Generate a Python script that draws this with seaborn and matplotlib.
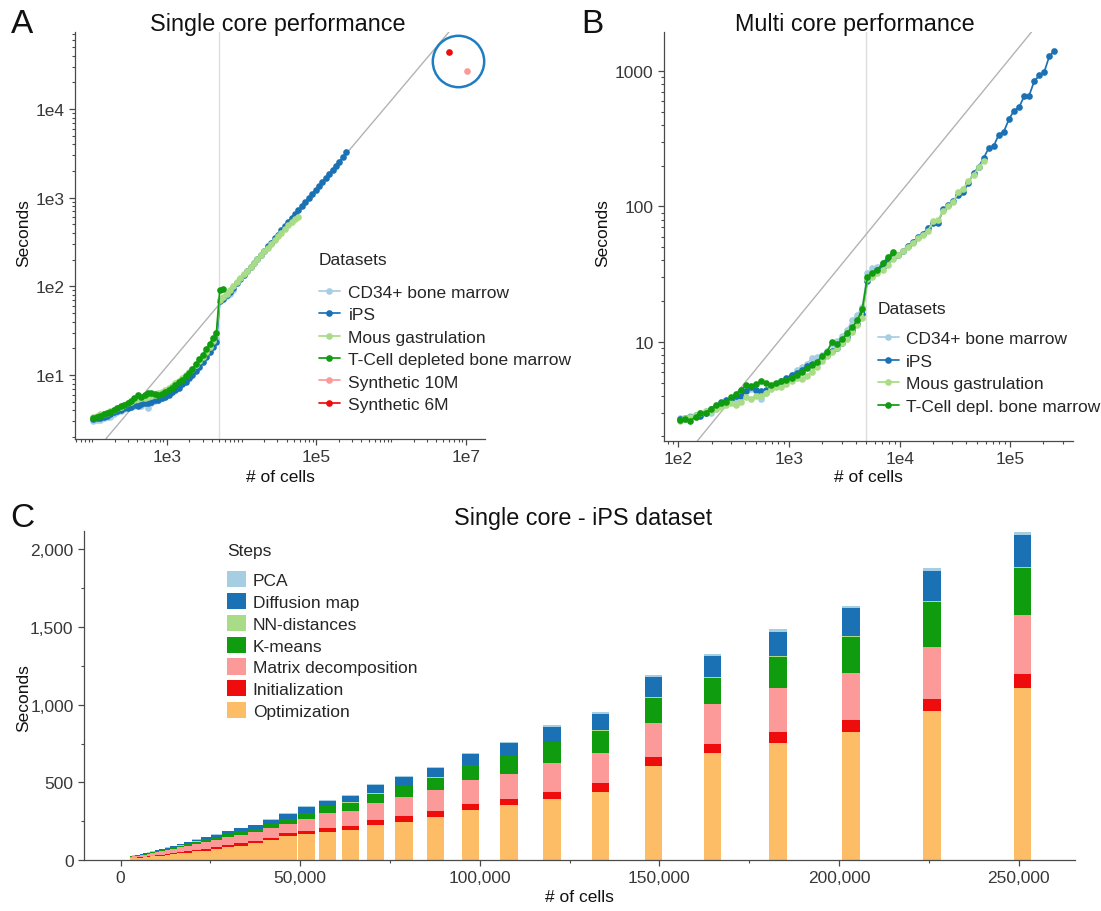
import numpy as np
import pandas as pd
import matplotlib
matplotlib.use("Agg")
import matplotlib.pyplot as plt
from matplotlib.patches import Patch
from matplotlib.ticker import (FixedLocator, FuncFormatter, LogLocator,
                               MultipleLocator, NullFormatter)
import seaborn as sns

# ------------------------------------------------------------------
# Subsample sizes (# of cells) used for every dataset
# ------------------------------------------------------------------
n_cells = [104, 115, 128, 143, 158, 176, 196, 217, 241, 268, 298, 331, 368,
           408, 454, 504, 560, 622, 691, 768, 853, 948, 1053, 1170, 1300,
           1445, 1605, 1783, 1981, 2201, 2445, 2717, 3018, 3353, 3725, 4139,
           4598, 5109, 5676, 6306, 7006, 7783, 8647, 9607, 10670, 11860,
           13180, 14640, 16260, 18070, 20070, 22300, 24780, 27530, 30580,
           33980, 37750, 41940, 46590, 51760, 57510, 63890, 70980, 78860,
           87610, 97330, 108100, 120100, 133500, 148300, 164700, 183000,
           203300, 225900, 251000]

# ------------------------------------------------------------------
# Single core run times (seconds)
# ------------------------------------------------------------------
single_cd34 = [3.0, 3.1, 3.1, 3.3, 3.4, 3.4, 3.6, 3.8, 3.9, 4.1, 4.3, 4.4,
               4.5, 4.7, 4.5, 4.8, 4.3, 4.9, 5.1, 5.3, 5.5, 5.8, 6.1, 6.5,
               7.0, 7.5, 8.1, 8.8, 9.6, 10.5, 11.6, 12.9, 14.6, 16.5, 18.8,
               21.8, 25.5, 70, 74, 77, 83, 92]
single_ips = [3.2, 3.3, 3.3, 3.4, 3.5, 3.6, 3.8, 3.9, 4.0, 4.2, 4.2, 4.4,
              4.6, 4.5, 4.7, 4.9, 4.8, 5.0, 5.2, 5.3, 5.5, 5.7, 6.0, 6.4,
              6.8, 7.2, 7.9, 8.4, 9.2, 10.0, 11.2, 12.4, 14.0, 15.8, 18.0,
              20.5, 23.5,
              68, 73, 79, 87, 97, 108, 121, 136, 150, 166, 186, 205, 229,
              252, 282, 312, 348, 385, 430, 476, 528, 588, 650, 722, 805,
              893, 990, 1100, 1225, 1360, 1510, 1680, 1860, 2070, 2300,
              2560, 2850, 3250]
single_mous = [3.4, 3.5, 3.6, 3.6, 3.7, 3.9, 4.0, 4.2, 4.4, 4.6, 4.8, 5.0,
               5.2, 5.4, 5.5, 5.5, 5.6, 5.8, 5.9, 6.2, 6.5, 6.8, 7.2, 7.6,
               8.1, 8.6, 9.2, 9.9, 10.8, 11.8, 13.0, 14.4, 16.0, 18.0, 20.5,
               24.0, 29.5,
               70, 76, 83, 92, 101, 112, 124, 137, 151, 167, 184, 203, 225,
               248, 274, 302, 334, 368, 404, 444, 488, 530, 572, 610]
single_tcell = [3.3, 3.4, 3.5, 3.6, 3.7, 3.8, 4.0, 4.3, 4.5, 4.6, 4.9, 5.1,
                5.5, 5.9, 5.7, 6.0, 6.2, 6.3, 6.1, 5.9, 6.1, 6.4, 6.8, 7.2,
                7.7, 8.3, 8.9, 9.7, 10.6, 11.8, 13.2, 15.0, 17.0, 19.5, 22.5,
                26.0, 30.0, 92, 93]
synthetic_10m_cells = [10400000]
synthetic_10m_sec = [27000]
synthetic_6m_cells = [5900000]
synthetic_6m_sec = [44000]

# ------------------------------------------------------------------
# Multi core run times (seconds)
# ------------------------------------------------------------------
multi_cd34 = [2.75, 2.7, 2.85, 2.8, 2.9, 3.1, 3.0, 3.2, 3.4, 3.5, 3.7, 3.8,
              4.0, 4.4, 4.5, 4.3, 3.8, 4.2, 4.6, 4.8, 5.0, 5.3, 5.7, 6.2,
              6.5, 6.8, 7.6, 7.7, 8.0, 8.6, 9.6, 10.2, 11.0, 12.2, 14.5,
              15.8, 18.0, 32, 35, 36, 38, 41]
multi_ips = [2.7, 2.75, 2.8, 2.9, 2.85, 3.0, 3.2, 3.3, 3.6, 3.7, 3.8, 4.0,
             4.0, 4.3, 4.6, 4.4, 4.3, 4.4, 4.6, 4.9, 5.1, 5.4, 5.7, 5.9,
             6.2, 6.6, 6.9, 7.0, 7.6, 8.0, 8.6, 9.0, 9.8, 10.8, 12.2, 13.5,
             16.0,
             28, 31, 34, 36, 40, 42, 44, 47, 51, 55, 59, 63, 69, 76, 76, 95,
             102, 110, 122, 128, 150, 176, 196, 228, 270, 280, 340, 358, 440,
             510, 540, 650, 660, 840, 930, 990, 1290, 1420]
multi_mous = [2.6, 2.75, 2.8, 2.9, 3.0, 3.1, 3.1, 3.2, 3.3, 3.4, 3.5, 3.4,
              3.6, 3.9, 3.8, 4.0, 4.0, 4.2, 4.5, 4.6, 4.6, 4.9, 5.1, 5.4,
              5.3, 5.6, 6.0, 6.5, 7.2, 7.8, 8.4, 9.0, 9.8, 10.5, 11.8, 13.2,
              15.0,
              29, 30, 32, 34, 37, 41, 44, 47, 50, 54, 58, 62, 66, 78, 80, 92,
              100, 108, 128, 135, 155, 170, 195, 215]
multi_tcell = [2.65, 2.7, 2.6, 2.8, 3.0, 3.0, 3.2, 3.4, 3.5, 3.6, 3.9, 4.1,
               4.4, 4.8, 4.7, 4.9, 5.1, 5.0, 4.8, 5.0, 5.1, 5.2, 5.4, 5.7,
               6.0, 6.4, 6.7, 7.1, 7.8, 8.4, 10.0, 9.6, 10.4, 11.6, 12.8,
               14.4, 17.5, 30, 32, 34, 38, 42, 46]

# ------------------------------------------------------------------
# Single core, iPS dataset: time per step (seconds)
# ------------------------------------------------------------------
step_cells = n_cells[37:]
step_names = ["PCA", "Diffusion map", "NN-distances", "K-means",
              "Matrix decomposition", "Initialization", "Optimization"]
t_optimization = [11, 12, 13, 14, 16, 18, 20, 23, 26, 29, 33, 37, 43, 48, 55,
                  60, 69, 82, 92, 108, 130, 157, 165, 183, 191, 225, 247, 277,
                  322, 352, 395, 438, 605, 687, 756, 827, 960, 1105]
t_initialization = [2, 3, 3, 3, 3, 4, 4, 5, 5, 6, 7, 8, 9, 10, 11, 13, 13, 13,
                    15, 15, 13, 15, 22, 26, 28, 33, 36, 39, 37, 39, 45, 56, 61,
                    62, 68, 75, 75, 93]
t_matrix = [8, 8, 9, 10, 11, 12, 14, 16, 18, 20, 23, 26, 29, 33, 38, 43, 47,
            52, 56, 56, 64, 60, 75, 92, 97, 112, 125, 135, 154, 161, 183, 193,
            219, 256, 286, 305, 339, 378]
t_kmeans = [3, 3, 3, 4, 4, 5, 5, 6, 7, 8, 9, 10, 12, 13, 15, 17, 19, 19, 23,
            22, 25, 31, 42, 46, 53, 56, 66, 78, 96, 115, 136, 144, 161, 167,
            200, 232, 290, 303]
t_nn = [0.3, 0.3, 0.3, 0.4, 0.4, 0.4, 0.5, 0.5, 0.6, 0.6, 0.7, 0.8, 0.9, 1.0,
        1.0, 1.1, 1.2, 1.3, 1.4, 1.5, 1.6, 1.8, 1.9, 2.0, 2.2, 2.3, 2.5, 2.7,
        2.9, 3.0, 3.2, 3.4, 3.6, 3.8, 4.0, 4.3, 4.6, 5.0]
t_diffusion = [2, 2, 2, 2, 3, 3, 4, 4, 5, 6, 7, 8, 9, 10, 12, 11, 15, 17, 18,
               21, 27, 32, 35, 33, 44, 52, 59, 61, 72, 82, 95, 105, 126, 138,
               157, 178, 193, 208]
t_pca = [1, 1, 1, 1, 1, 1, 1, 1, 1, 1, 1, 1, 1, 2, 2, 2, 2, 2, 3, 3, 3, 4, 4,
         5, 5, 6, 6, 7, 8, 8, 10, 13, 13, 15, 15, 15, 20, 18]

# ------------------------------------------------------------------
# Style
# ------------------------------------------------------------------
sns.set_theme(style="ticks")
plt.rcParams["font.family"] = ["Liberation Sans", "DejaVu Sans"]
INK = "#383838"
AXIS = "#4a4a4a"
plt.rcParams.update({
    "axes.edgecolor": AXIS,
    "axes.linewidth": 0.9,
    "xtick.color": AXIS,
    "ytick.color": AXIS,
    "xtick.labelcolor": INK,
    "ytick.labelcolor": INK,
    "xtick.labelsize": 12.5,
    "ytick.labelsize": 12.5,
    "xtick.major.size": 4,
    "ytick.major.size": 4,
    "xtick.minor.size": 2.5,
    "ytick.minor.size": 2.5,
    "xtick.major.width": 0.9,
    "ytick.major.width": 0.9,
    "xtick.minor.width": 0.8,
    "ytick.minor.width": 0.8,
    "axes.labelsize": 12.5,
    "axes.labelcolor": "#111111",
})

C_LBLUE, C_BLUE = "#a6cee3", "#1a72b5"
C_LGREEN, C_GREEN = "#a9dc86", "#0f9c0f"
C_PINK, C_RED, C_ORANGE = "#fb9a99", "#ee0c0c", "#fdbc66"

fig = plt.figure(figsize=(11.01, 9.12), dpi=100)
ax_a = fig.add_axes([0.0681, 0.5175, 0.3724, 0.4463])
ax_b = fig.add_axes([0.6031, 0.5154, 0.3715, 0.4485])
ax_c = fig.add_axes([0.0763, 0.0559, 0.9001, 0.3607])


def long_frame(series):
    parts = [pd.DataFrame({"cells": xs, "seconds": ys, "dataset": name})
             for name, (xs, ys) in series.items()]
    return pd.concat(parts, ignore_index=True)


def log_panel(ax, df, order, palette, xlim, ylim, xmajor, ymajor, yfmt):
    ax.set(xscale="log", yscale="log")
    ax.axvline(5000, color="#dedede", lw=1.0, zorder=0.5)
    ax.axline((100, 100 / 80), (1e6, 1e6 / 80), color="#b3b3b3", lw=1.0,
              zorder=0.6)
    sns.lineplot(data=df, x="cells", y="seconds", hue="dataset",
                 hue_order=order, palette=palette, marker="o",
                 markersize=4.8, markeredgewidth=0, linewidth=1.25,
                 estimator=None, ax=ax)
    ax.set_xlim(*xlim)
    ax.set_ylim(*ylim)
    ax.xaxis.set_major_locator(FixedLocator(xmajor))
    ax.xaxis.set_major_formatter(
        FuncFormatter(lambda v, _: f"1e{int(round(np.log10(v)))}"))
    ax.xaxis.set_minor_locator(LogLocator(base=10, subs=np.arange(1, 10),
                                          numticks=50))
    ax.xaxis.set_minor_formatter(NullFormatter())
    ax.yaxis.set_major_locator(FixedLocator(ymajor))
    ax.yaxis.set_major_formatter(FuncFormatter(yfmt))
    ax.yaxis.set_minor_locator(LogLocator(base=10, subs=np.arange(2, 10),
                                          numticks=50))
    ax.yaxis.set_minor_formatter(NullFormatter())
    for side in ("top", "right"):
        ax.spines[side].set_visible(False)
    ax.set_xlabel("# of cells")
    ax.set_ylabel("Seconds")


def widen_title_gap(legend, gap_pt):
    # extra room between the legend title and its first entry
    legend._legend_box.sep = gap_pt


# ---------------- A: single core ----------------
names_a = ["CD34+ bone marrow", "iPS", "Mous gastrulation",
           "T-Cell depleted bone marrow", "Synthetic 10M", "Synthetic 6M"]
df_a = long_frame({
    names_a[0]: (n_cells[:len(single_cd34)], single_cd34),
    names_a[1]: (n_cells[:len(single_ips)], single_ips),
    names_a[2]: (n_cells[:len(single_mous)], single_mous),
    names_a[3]: (n_cells[:len(single_tcell)], single_tcell),
    names_a[4]: (synthetic_10m_cells, synthetic_10m_sec),
    names_a[5]: (synthetic_6m_cells, synthetic_6m_sec),
})
pal_a = dict(zip(names_a, [C_LBLUE, C_BLUE, C_LGREEN, C_GREEN, C_PINK, C_RED]))
log_panel(ax_a, df_a, names_a, pal_a, (59, 1.8e7), (1.9, 74000),
          [1e3, 1e5, 1e7], [1e1, 1e2, 1e3, 1e4],
          lambda v, _: f"1e{int(round(np.log10(v)))}")

# highlight ring around the two synthetic datasets
ring_x = np.sqrt(synthetic_10m_cells[0] * synthetic_6m_cells[0])
ring_y = np.sqrt(synthetic_10m_sec[0] * synthetic_6m_sec[0])
ax_a.plot([ring_x], [ring_y], marker="o", markersize=37, mfc="none",
          mec="#1f7dc0", mew=1.8, zorder=5)

sns.move_legend(ax_a, "upper left", bbox_to_anchor=(0.595, 0.46),
                title="Datasets", frameon=False, fontsize=12.5,
                title_fontsize=12.5, alignment="left", borderpad=0,
                borderaxespad=0, handlelength=1.2, handletextpad=0.5,
                labelspacing=0.42)
widen_title_gap(ax_a.get_legend(), 12.8)
ax_a.xaxis.set_label_coords(0.5, -0.074)
ax_a.yaxis.set_label_coords(-0.107, 0.509)

# ---------------- B: multi core ----------------
names_b = ["CD34+ bone marrow", "iPS", "Mous gastrulation",
           "T-Cell depl. bone marrow"]
df_b = long_frame({
    names_b[0]: (n_cells[:len(multi_cd34)], multi_cd34),
    names_b[1]: (n_cells[:len(multi_ips)], multi_ips),
    names_b[2]: (n_cells[:len(multi_mous)], multi_mous),
    names_b[3]: (n_cells[:len(multi_tcell)], multi_tcell),
})
pal_b = dict(zip(names_b, [C_LBLUE, C_BLUE, C_LGREEN, C_GREEN]))
log_panel(ax_b, df_b, names_b, pal_b, (74, 3.7e5), (1.85, 1950),
          [1e2, 1e3, 1e4, 1e5], [10, 100, 1000],
          lambda v, _: f"{v:.0f}")
sns.move_legend(ax_b, "upper left", bbox_to_anchor=(0.523, 0.342),
                title="Datasets", frameon=False, fontsize=12.5,
                title_fontsize=12.5, alignment="left", borderpad=0,
                borderaxespad=0, handlelength=1.2, handletextpad=0.4,
                labelspacing=0.42)
widen_title_gap(ax_b.get_legend(), 11.0)
ax_b.xaxis.set_label_coords(0.5, -0.068)
ax_b.yaxis.set_label_coords(-0.132, 0.511)

# ---------------- C: stacked steps ----------------
stack = np.array([t_optimization, t_initialization, t_matrix, t_kmeans,
                  t_nn, t_diffusion, t_pca], dtype=float)
tops = np.cumsum(stack, axis=0)
stack_colors = [C_ORANGE, C_RED, C_PINK, C_GREEN, C_LGREEN, C_BLUE, C_LBLUE]
bar_width = 4800
rel_width = bar_width / np.diff(step_cells).min()
# draw cumulative totals from the top layer down so each segment shows
for top, color in zip(tops[::-1], stack_colors[::-1]):
    sns.barplot(x=step_cells, y=top, native_scale=True, orient="x",
                width=rel_width, color=color, saturation=1, errorbar=None,
                linewidth=0, edgecolor="none", ax=ax_c)
ax_c.set_xlim(-10200, 265700)
ax_c.set_ylim(0, 2118)
ax_c.xaxis.set_major_locator(MultipleLocator(50000))
ax_c.xaxis.set_minor_locator(MultipleLocator(25000))
ax_c.yaxis.set_major_locator(MultipleLocator(500))
ax_c.yaxis.set_minor_locator(MultipleLocator(250))
comma = FuncFormatter(lambda v, _: f"{v:,.0f}")
ax_c.xaxis.set_major_formatter(comma)
ax_c.yaxis.set_major_formatter(comma)
for side in ("top", "right"):
    ax_c.spines[side].set_visible(False)
ax_c.set_xlabel("# of cells")
ax_c.set_ylabel("Seconds")
ax_c.xaxis.set_label_coords(0.5, -0.088)
ax_c.yaxis.set_label_coords(-0.0535, 0.495)

step_color = dict(zip(["Optimization", "Initialization",
                       "Matrix decomposition", "K-means", "NN-distances",
                       "Diffusion map", "PCA"], stack_colors))
handles = [Patch(facecolor=step_color[n], edgecolor="none", label=n)
           for n in step_names]
leg_c = ax_c.legend(handles=handles, title="Steps", loc="upper left",
                    bbox_to_anchor=(0.144, 0.964), frameon=False,
                    fontsize=12.5, title_fontsize=12.5, alignment="left",
                    borderpad=0, borderaxespad=0, handlelength=1.1,
                    handleheight=1.05, handletextpad=0.4, labelspacing=0.28)
widen_title_gap(leg_c, 9.5)

# ---------------- titles and panel letters ----------------
fig.text(0.2525, 0.9726, "Single core performance", fontsize=16.8,
         ha="center", va="center", color="#111111")
fig.text(0.7766, 0.9726, "Multi core performance", fontsize=16.8,
         ha="center", va="center", color="#111111")
fig.text(0.5295, 0.432, "Single core - iPS dataset", fontsize=16.8,
         ha="center", va="center", color="#111111")
for letter, x, y in (("A", 0.020, 0.9726), ("B", 0.5377, 0.9726),
                     ("C", 0.020, 0.431)):
    fig.text(x, y, letter, fontsize=24, ha="center", va="center",
             color="#111111")

fig.savefig("out.png", dpi=100)
